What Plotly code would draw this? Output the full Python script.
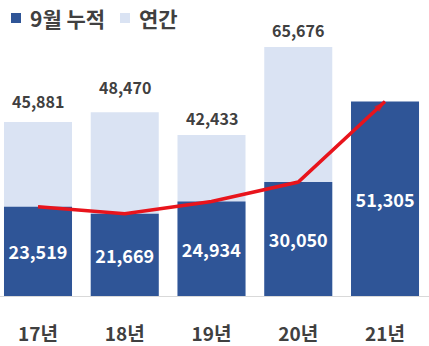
import plotly.graph_objects as go

# Data
years = ["17년", "18년", "19년", "20년", "21년"]
annual = [45881, 48470, 42433, 65676, None]      # 연간
sep_cum = [23519, 21669, 24934, 30050, 51305]    # 9월 누적
series_names = ["9월 누적", "연간"]

# Style
DARK = "#2F5597"
LIGHT = "#DAE3F3"
RED = "#E8141C"
TEXT = "#404040"
FONT = "Noto Sans CJK KR"
W, H = 429, 346
MB = 50
annual_label_lift = [21, 25, 17, 17, 0]

fig = go.Figure()

fig.add_trace(go.Bar(
    x=years, y=annual, name=series_names[1],
    marker=dict(color=LIGHT, line=dict(width=0)),
    width=0.784, hoverinfo="skip",
))
fig.add_trace(go.Bar(
    x=years, y=sep_cum, name=series_names[0],
    marker=dict(color=DARK, line=dict(width=0)),
    width=0.784,
    texttemplate="%{y:,}", textposition="inside", insidetextanchor="middle",
    constraintext="none",
    textfont=dict(family=FONT, size=18, color="white", weight="bold"),
    hoverinfo="skip",
))

# Trend line over the September totals, arrow at the latest year
fig.add_trace(go.Scatter(
    x=years, y=sep_cum, mode="lines+markers",
    line=dict(color=RED, width=3.5),
    marker=dict(symbol="arrow", size=[0, 0, 0, 0, 12], angleref="previous",
                color=RED, line=dict(width=0)),
    hoverinfo="skip", showlegend=False,
))

# Annual totals above the light bars
for yr, val, lift in zip(years, annual, annual_label_lift):
    if val is None:
        continue
    fig.add_annotation(
        x=yr, y=val, text=f"{val:,}", showarrow=False,
        yanchor="middle", yshift=lift,
        font=dict(family=FONT, size=16, color=TEXT, weight="bold"),
    )

# Legend drawn as swatches + labels
plot_h = H - MB
def px(x):
    return x / W
def py(y):
    return 1 - y / plot_h

legend_items = [(series_names[0], DARK, 11, 28), (series_names[1], LIGHT, 120, 137)]
for name, color, sx, tx in legend_items:
    fig.add_shape(type="rect", xref="paper", yref="paper",
                  x0=px(sx), x1=px(sx + 10), y0=py(23), y1=py(13),
                  fillcolor=color, line=dict(width=0))
    fig.add_annotation(xref="paper", yref="paper", x=px(tx), y=py(18),
                       xanchor="left", yanchor="middle", showarrow=False,
                       text=name,
                       font=dict(family=FONT, size=21, color=TEXT, weight="bold"))

fig.update_layout(
    width=W, height=H,
    margin=dict(l=0, r=0, t=0, b=MB, pad=0),
    barmode="overlay",
    showlegend=False,
    paper_bgcolor="white", plot_bgcolor="white",
    xaxis=dict(
        range=[-0.438, 4.507],
        showline=True, linecolor="#D9D9D9", linewidth=1,
        ticks="outside", ticklen=21, tickcolor="rgba(0,0,0,0)",
        tickfont=dict(family=FONT, size=19, color=TEXT, weight="bold"),
        showgrid=False, zeroline=False, fixedrange=True,
    ),
    yaxis=dict(
        range=[0, 78060], visible=False, showgrid=False, zeroline=False,
        fixedrange=True,
    ),
)

fig.write_html("out.html")
